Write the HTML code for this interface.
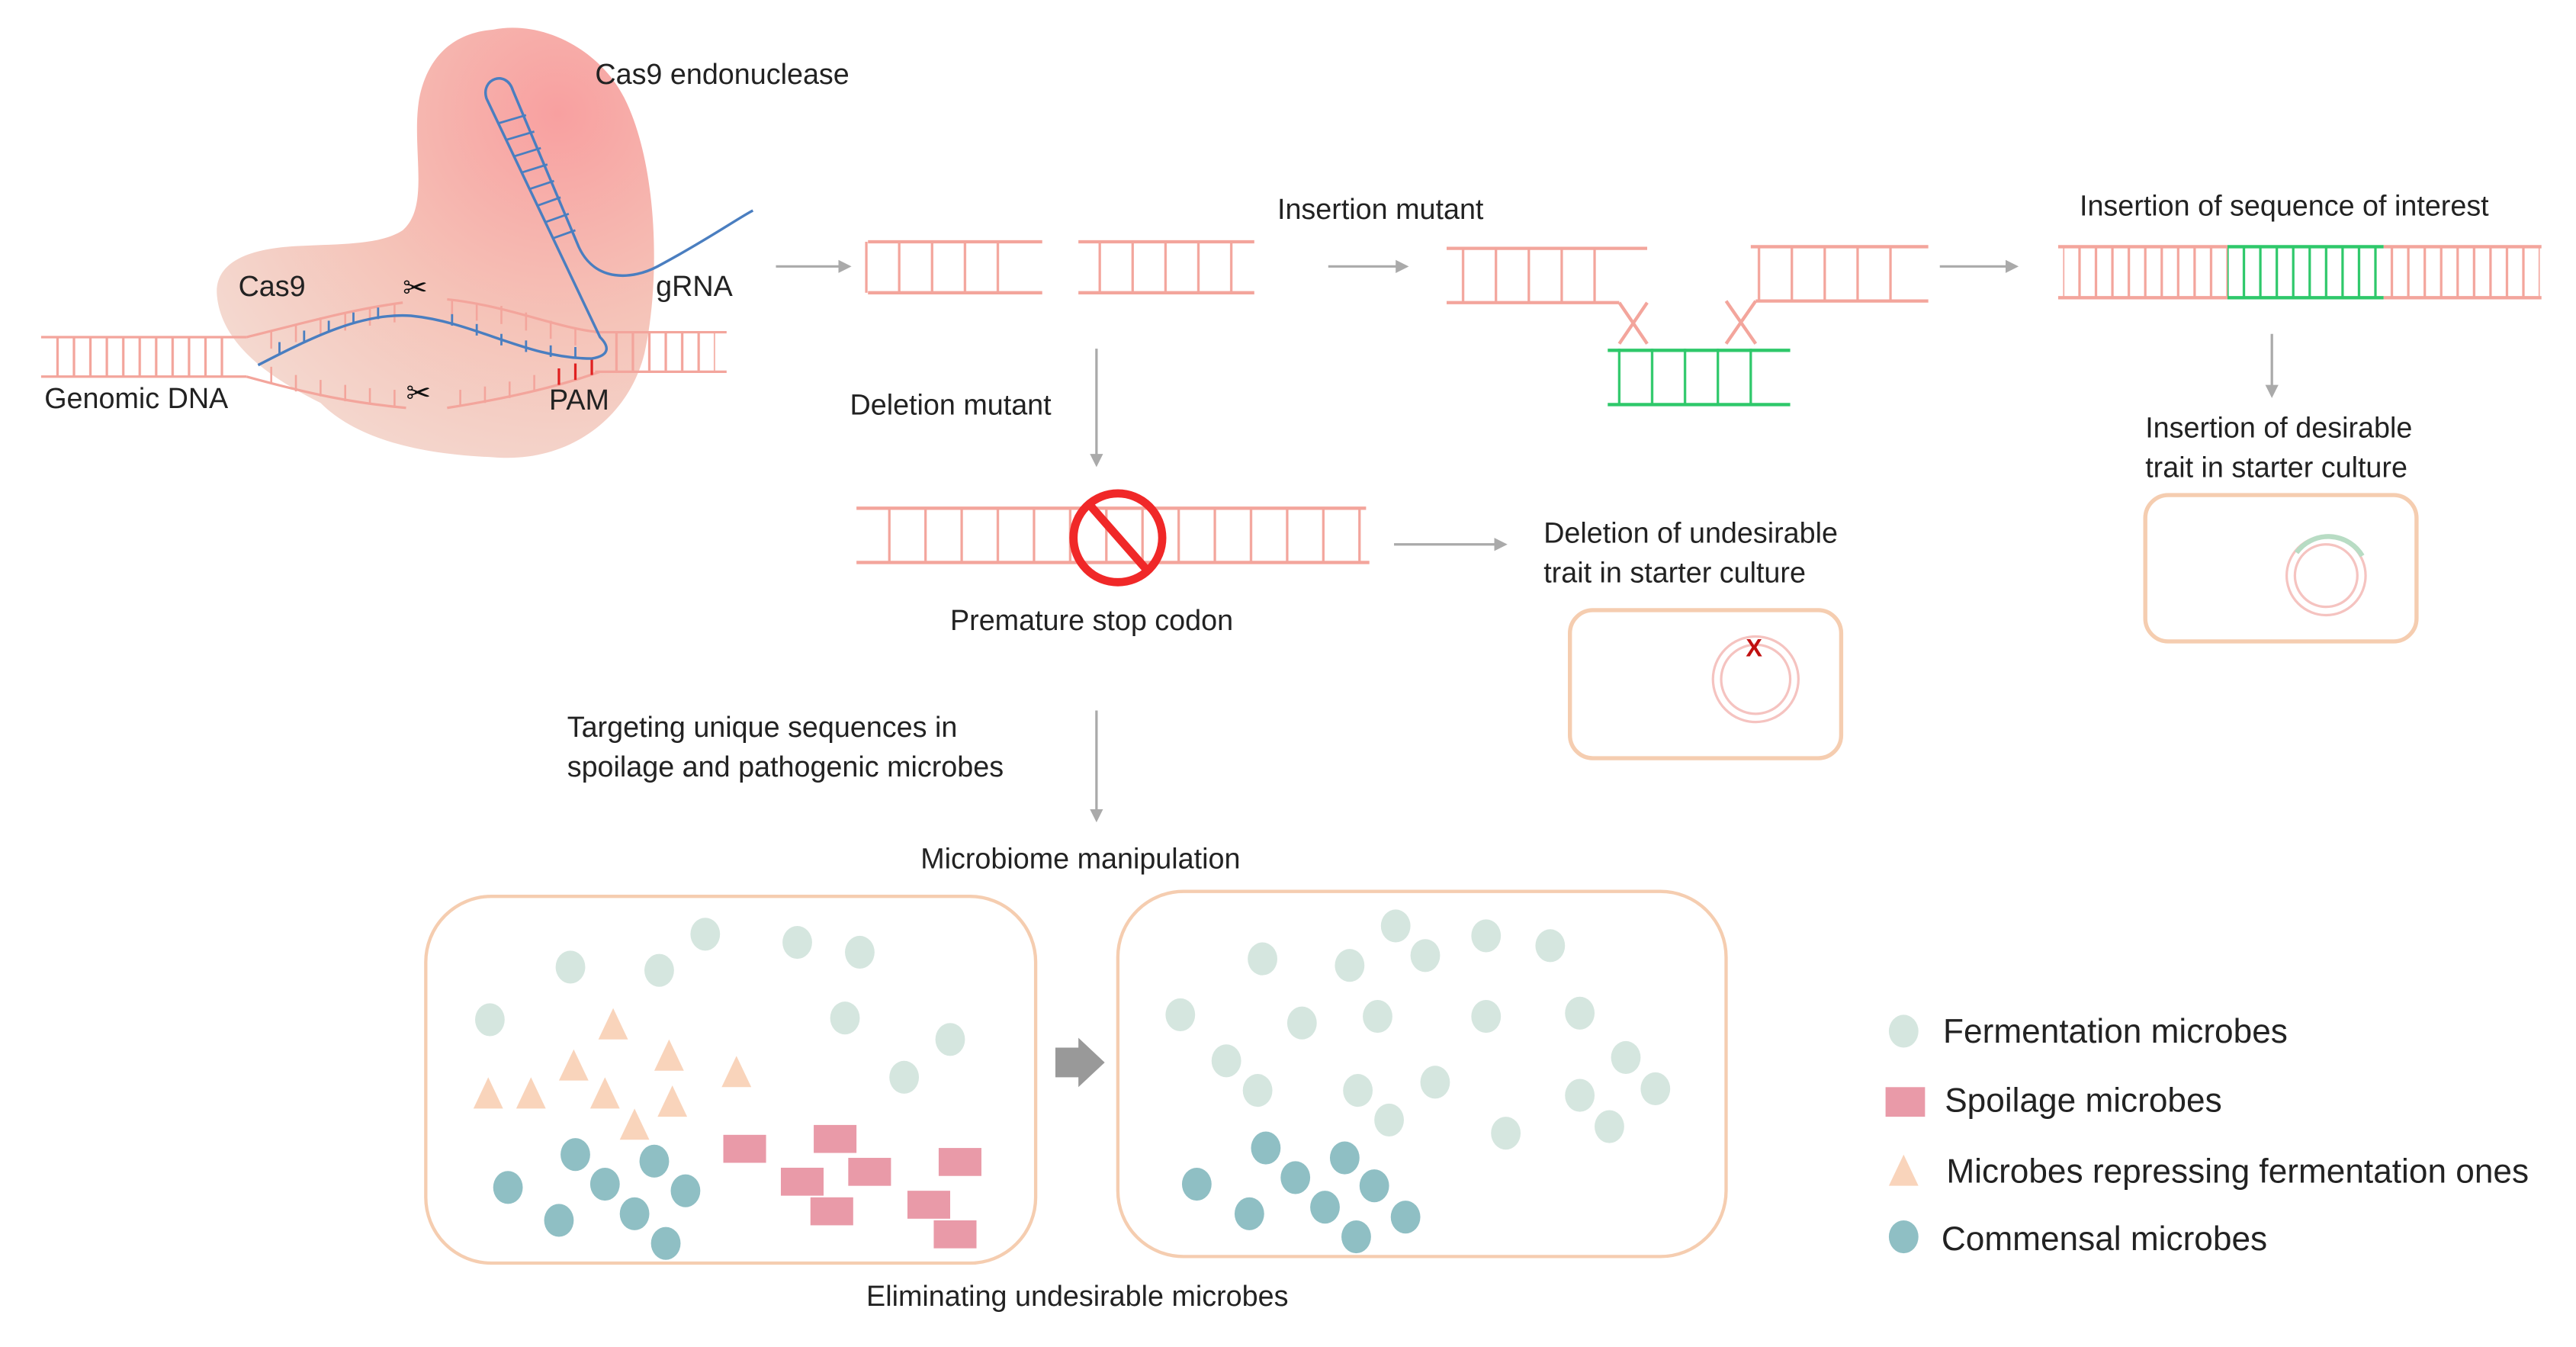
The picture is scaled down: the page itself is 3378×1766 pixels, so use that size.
<!DOCTYPE html>
<html><head><meta charset="utf-8"><style>
html,body{margin:0;padding:0;background:#fff;}
svg{display:block;}
text{font-family:"Liberation Sans",sans-serif;fill:#222;}
</style></head><body>
<svg width="3378" height="1766" viewBox="0 0 1567 819" preserveAspectRatio="none" xmlns="http://www.w3.org/2000/svg">
<defs>
<radialGradient id="bg" cx="0.78" cy="0.2" r="0.9">
<stop offset="0" stop-color="#f8a0a0"/><stop offset="0.55" stop-color="#f5c3b8"/><stop offset="1" stop-color="#f4d8cf"/>
</radialGradient>
<pattern id="rp" width="10" height="40" patternUnits="userSpaceOnUse"><line x1="5" y1="0" x2="5" y2="40" stroke="#f3a59c" stroke-width="1.5"/></pattern>
<pattern id="rp2" width="20" height="40" patternUnits="userSpaceOnUse"><line x1="10" y1="0" x2="10" y2="40" stroke="#f3a59c" stroke-width="1.5"/></pattern>
<pattern id="rp3" width="22" height="40" patternUnits="userSpaceOnUse"><line x1="11" y1="0" x2="11" y2="40" stroke="#f3a59c" stroke-width="1.5"/></pattern>
<pattern id="gp" width="20" height="40" patternUnits="userSpaceOnUse"><line x1="10" y1="0" x2="10" y2="40" stroke="#2ec86a" stroke-width="1.5"/></pattern>
<pattern id="gp2" width="10" height="40" patternUnits="userSpaceOnUse"><line x1="5" y1="0" x2="5" y2="40" stroke="#2ec86a" stroke-width="1.5"/></pattern>
<marker id="ah" markerWidth="8" markerHeight="8" refX="6" refY="4" orient="auto" markerUnits="userSpaceOnUse"><path d="M0,0 L8,4 L0,8 Z" fill="#aaa"/></marker>
</defs>

<path d="M300,18 C330,12 365,30 380,60 C400,100 402,170 392,215 C382,255 345,282 300,278 C250,276 215,265 195,245 C165,230 135,210 132,180 C130,160 150,152 175,150 C200,148 230,150 245,140 C262,125 250,90 255,60 C260,35 275,20 300,18 Z" fill="url(#bg)"/>

<rect x="27" y="205" width="115" height="24" fill="url(#rp)"/>
<line x1="25" y1="205" x2="150" y2="205" stroke="#f3a59c" stroke-width="1.5"/>
<line x1="25" y1="229" x2="150" y2="229" stroke="#f3a59c" stroke-width="1.5"/>
<rect x="370" y="202" width="65" height="24" fill="url(#rp)"/>
<line x1="362" y1="202" x2="442" y2="202" stroke="#f3a59c" stroke-width="1.5"/>
<line x1="362" y1="226" x2="442" y2="226" stroke="#f3a59c" stroke-width="1.5"/>
<path d="M150,205 C190,195 215,188 245,184 M272,182 C310,186 340,200 365,202" fill="none" stroke="#f3a59c" stroke-width="1.5"/>
<path d="M150,229 C190,240 215,245 247,248 M272,248 C310,242 340,235 365,226" fill="none" stroke="#f3a59c" stroke-width="1.5"/>
<g stroke="#f3a59c" stroke-width="1.2">
<line x1="165" y1="201" x2="165" y2="212"/><line x1="180" y1="197" x2="180" y2="208"/><line x1="195" y1="193" x2="195" y2="204"/><line x1="210" y1="190" x2="210" y2="201"/><line x1="225" y1="187" x2="225" y2="198"/><line x1="240" y1="185" x2="240" y2="196"/>
<line x1="275" y1="182" x2="275" y2="193"/><line x1="290" y1="184" x2="290" y2="195"/><line x1="305" y1="186" x2="305" y2="197"/><line x1="320" y1="190" x2="320" y2="201"/><line x1="335" y1="195" x2="335" y2="206"/><line x1="350" y1="199" x2="350" y2="210"/>
<line x1="165" y1="233" x2="165" y2="223"/><line x1="180" y1="238" x2="180" y2="228"/><line x1="195" y1="241" x2="195" y2="231"/><line x1="210" y1="244" x2="210" y2="234"/><line x1="225" y1="246" x2="225" y2="236"/><line x1="240" y1="247" x2="240" y2="237"/>
<line x1="280" y1="247" x2="280" y2="237"/><line x1="295" y1="245" x2="295" y2="235"/><line x1="310" y1="242" x2="310" y2="232"/><line x1="325" y1="238" x2="325" y2="228"/>
</g>
<g stroke="#e02020" stroke-width="1.5"><line x1="340" y1="234" x2="340" y2="224"/><line x1="350" y1="231" x2="350" y2="221"/><line x1="360" y1="228" x2="360" y2="218"/></g>
<path d="M157,222 C190,205 220,190 250,192 C290,196 320,218 360,218 C372,216 370,210 365,205 L296,60 C292,48 308,42 312,55 L352,150 C362,172 385,170 400,162 C430,146 450,132 458,128" fill="none" stroke="#4a7ec0" stroke-width="1.6"/>
<g stroke="#4a7ec0" stroke-width="1.3">
<line x1="303" y1="75" x2="320" y2="70"/><line x1="308" y1="85" x2="325" y2="80"/><line x1="313" y1="95" x2="329" y2="90"/><line x1="317" y1="105" x2="333" y2="100"/><line x1="322" y1="115" x2="337" y2="110"/><line x1="327" y1="125" x2="341" y2="120"/><line x1="332" y1="135" x2="346" y2="130"/><line x1="336" y1="145" x2="350" y2="140"/>
<line x1="170" y1="215" x2="170" y2="208"/><line x1="185" y1="208" x2="185" y2="201"/><line x1="200" y1="202" x2="200" y2="195"/><line x1="215" y1="197" x2="215" y2="190"/><line x1="230" y1="194" x2="230" y2="187"/>
<line x1="275" y1="198" x2="275" y2="191"/><line x1="290" y1="204" x2="290" y2="197"/><line x1="305" y1="210" x2="305" y2="203"/><line x1="320" y1="214" x2="320" y2="207"/><line x1="335" y1="217" x2="335" y2="210"/><line x1="350" y1="218" x2="350" y2="211"/>
</g>
<text x="245" y="181" font-size="18" style="fill:#111">✂</text>
<text x="247" y="245" font-size="18" style="fill:#111">✂</text>
<text x="362" y="51" font-size="17.5">Cas9 endonuclease</text>
<text x="145" y="180" font-size="17.5">Cas9</text>
<text x="399" y="180" font-size="17.5">gRNA</text>
<text x="27" y="248" font-size="17.5">Genomic DNA</text>
<text x="334" y="249" font-size="17.5">PAM</text>

<g stroke="#aaa" stroke-width="1.5" marker-end="url(#ah)">
<line x1="472" y1="162" x2="516" y2="162"/>
<line x1="808" y1="162" x2="855" y2="162"/>
<line x1="1180" y1="162" x2="1226" y2="162"/>
<line x1="1382" y1="203" x2="1382" y2="240"/>
<line x1="667" y1="212" x2="667" y2="282"/>
<line x1="848" y1="331" x2="915" y2="331"/>
<line x1="667" y1="432" x2="667" y2="498"/>
</g>

<rect x="528" y="147" width="100" height="31" fill="url(#rp2)" transform="translate(-3,0)"/>
<line x1="528" y1="147" x2="634" y2="147" stroke="#f3a59c" stroke-width="2"/><line x1="528" y1="178" x2="634" y2="178" stroke="#f3a59c" stroke-width="2"/>
<rect x="656" y="147" width="100" height="31" fill="url(#rp2)" transform="translate(-1,0)"/>
<line x1="656" y1="147" x2="763" y2="147" stroke="#f3a59c" stroke-width="2"/><line x1="656" y1="178" x2="763" y2="178" stroke="#f3a59c" stroke-width="2"/>
<text x="777" y="133" font-size="17.5">Insertion mutant</text>

<rect x="883" y="151" width="100" height="33" fill="url(#rp2)"/>
<line x1="880" y1="151" x2="1002" y2="151" stroke="#f3a59c" stroke-width="2"/><line x1="880" y1="184" x2="985" y2="184" stroke="#f3a59c" stroke-width="2"/>
<rect x="1068" y="150" width="100" height="33" fill="url(#rp2)"/>
<line x1="1065" y1="150" x2="1173" y2="150" stroke="#f3a59c" stroke-width="2"/><line x1="1068" y1="183" x2="1173" y2="183" stroke="#f3a59c" stroke-width="2"/>
<path d="M985,184 L1002,209 M1002,184 L985,209 M1068,183 L1050,209 M1050,183 L1068,209" stroke="#f3a59c" stroke-width="2" fill="none"/>
<rect x="978" y="212" width="110" height="34" fill="url(#gp)" transform="translate(-5,0)"/>
<line x1="978" y1="213" x2="1089" y2="213" stroke="#2ec86a" stroke-width="2"/><line x1="978" y1="246" x2="1089" y2="246" stroke="#2ec86a" stroke-width="2"/>

<text x="1265" y="131" font-size="17.5">Insertion of sequence of interest</text>
<rect x="1255" y="150" width="100" height="31" fill="url(#rp)"/>
<rect x="1355" y="150" width="95" height="31" fill="url(#gp2)"/>
<rect x="1450" y="150" width="95" height="31" fill="url(#rp)"/>
<line x1="1252" y1="150" x2="1355" y2="150" stroke="#f3a59c" stroke-width="2"/><line x1="1252" y1="181" x2="1355" y2="181" stroke="#f3a59c" stroke-width="2"/>
<line x1="1355" y1="150" x2="1450" y2="150" stroke="#2ec86a" stroke-width="2"/><line x1="1355" y1="181" x2="1450" y2="181" stroke="#2ec86a" stroke-width="2"/>
<line x1="1450" y1="150" x2="1546" y2="150" stroke="#f3a59c" stroke-width="2"/><line x1="1450" y1="181" x2="1546" y2="181" stroke="#f3a59c" stroke-width="2"/>

<text x="1305" y="266" font-size="17.5">Insertion of desirable</text>
<text x="1305" y="290" font-size="17.5">trait in starter culture</text>
<rect x="1305" y="301" width="165" height="89" rx="14" fill="none" stroke="#f5cdb0" stroke-width="2.5"/>
<circle cx="1415" cy="350" r="24" fill="none" stroke="#f5c3c0" stroke-width="1.5"/>
<circle cx="1415" cy="350" r="19" fill="none" stroke="#f5c3c0" stroke-width="1.5"/>
<path d="M1397,336 A24,24 0 0 1 1437,338" fill="none" stroke="#b8dcc4" stroke-width="3"/>

<text x="517" y="252" font-size="17.5">Deletion mutant</text>
<rect x="521" y="309" width="310" height="33" fill="url(#rp3)" transform="translate(2,0)"/>
<line x1="521" y1="309" x2="831" y2="309" stroke="#f3a59c" stroke-width="2"/><line x1="521" y1="342" x2="833" y2="342" stroke="#f3a59c" stroke-width="2"/>
<circle cx="680" cy="327" r="27" fill="none" stroke="#f02828" stroke-width="5"/>
<line x1="662" y1="306" x2="698" y2="347" stroke="#f02828" stroke-width="5"/>
<text x="578" y="383" font-size="17.5">Premature stop codon</text>

<text x="939" y="330" font-size="17.5">Deletion of undesirable</text>
<text x="939" y="354" font-size="17.5">trait in starter culture</text>
<rect x="955" y="371" width="165" height="90" rx="14" fill="none" stroke="#f5cdb0" stroke-width="2.5"/>
<circle cx="1068" cy="413" r="26" fill="none" stroke="#f5c3c0" stroke-width="1.5"/>
<circle cx="1068" cy="413" r="21" fill="none" stroke="#f5c3c0" stroke-width="1.5"/>
<text x="1062" y="399" font-size="15" font-weight="bold" style="fill:#c01010">X</text>

<text x="345" y="448" font-size="17.5">Targeting unique sequences in</text>
<text x="345" y="472" font-size="17.5">spoilage and pathogenic microbes</text>
<text x="560" y="528" font-size="17.5">Microbiome manipulation</text>

<rect x="259" y="545" width="371" height="223" rx="40" fill="none" stroke="#f5cdb0" stroke-width="2"/>
<rect x="680" y="542" width="370" height="222" rx="40" fill="none" stroke="#f5cdb0" stroke-width="2"/>
<path d="M642,637 L656,637 L656,631 L672,646 L656,661 L656,655 L642,655 Z" fill="#999"/>
<text x="527" y="794" font-size="17.5">Eliminating undesirable microbes</text>

<g fill="#d5e6df">
<ellipse cx="347" cy="588" rx="9" ry="10"/><ellipse cx="401" cy="590" rx="9" ry="10"/><ellipse cx="429" cy="568" rx="9" ry="10"/><ellipse cx="485" cy="573" rx="9" ry="10"/><ellipse cx="523" cy="579" rx="9" ry="10"/><ellipse cx="298" cy="620" rx="9" ry="10"/><ellipse cx="514" cy="619" rx="9" ry="10"/><ellipse cx="578" cy="632" rx="9" ry="10"/><ellipse cx="550" cy="655" rx="9" ry="10"/>
<ellipse cx="768" cy="583" rx="9" ry="10"/><ellipse cx="821" cy="587" rx="9" ry="10"/><ellipse cx="849" cy="563" rx="9" ry="10"/><ellipse cx="867" cy="581" rx="9" ry="10"/><ellipse cx="904" cy="569" rx="9" ry="10"/><ellipse cx="943" cy="575" rx="9" ry="10"/><ellipse cx="718" cy="617" rx="9" ry="10"/><ellipse cx="792" cy="622" rx="9" ry="10"/><ellipse cx="838" cy="618" rx="9" ry="10"/><ellipse cx="904" cy="618" rx="9" ry="10"/><ellipse cx="961" cy="616" rx="9" ry="10"/><ellipse cx="746" cy="645" rx="9" ry="10"/><ellipse cx="765" cy="663" rx="9" ry="10"/><ellipse cx="826" cy="663" rx="9" ry="10"/><ellipse cx="873" cy="658" rx="9" ry="10"/><ellipse cx="845" cy="681" rx="9" ry="10"/><ellipse cx="916" cy="689" rx="9" ry="10"/><ellipse cx="961" cy="666" rx="9" ry="10"/><ellipse cx="989" cy="643" rx="9" ry="10"/><ellipse cx="1007" cy="662" rx="9" ry="10"/><ellipse cx="979" cy="685" rx="9" ry="10"/>
<ellipse cx="1158" cy="627" rx="9" ry="10"/>
</g>
<g fill="#f9d4bb">
<path d="M373,613 L382,632 L364,632 Z"/><path d="M407,632 L416,651 L398,651 Z"/><path d="M349,638 L358,657 L340,657 Z"/><path d="M448,642 L457,661 L439,661 Z"/><path d="M297,655 L306,674 L288,674 Z"/><path d="M323,655 L332,674 L314,674 Z"/><path d="M368,655 L377,674 L359,674 Z"/><path d="M409,660 L418,679 L400,679 Z"/><path d="M386,674 L395,693 L377,693 Z"/>
<path d="M1158,702 L1167,721 L1149,721 Z"/>
</g>
<g fill="#8fbfc4">
<ellipse cx="350" cy="702" rx="9" ry="10"/><ellipse cx="398" cy="706" rx="9" ry="10"/><ellipse cx="309" cy="722" rx="9" ry="10"/><ellipse cx="368" cy="720" rx="9" ry="10"/><ellipse cx="417" cy="724" rx="9" ry="10"/><ellipse cx="340" cy="742" rx="9" ry="10"/><ellipse cx="386" cy="738" rx="9" ry="10"/><ellipse cx="405" cy="756" rx="9" ry="10"/>
<ellipse cx="770" cy="698" rx="9" ry="10"/><ellipse cx="728" cy="720" rx="9" ry="10"/><ellipse cx="788" cy="716" rx="9" ry="10"/><ellipse cx="818" cy="704" rx="9" ry="10"/><ellipse cx="836" cy="721" rx="9" ry="10"/><ellipse cx="760" cy="738" rx="9" ry="10"/><ellipse cx="806" cy="734" rx="9" ry="10"/><ellipse cx="855" cy="740" rx="9" ry="10"/><ellipse cx="825" cy="752" rx="9" ry="10"/>
<ellipse cx="1158" cy="752" rx="9" ry="10"/>
</g>
<g fill="#e99aa8">
<rect x="440" y="690" width="26" height="17"/><rect x="495" y="684" width="26" height="17"/><rect x="475" y="710" width="26" height="17"/><rect x="516" y="704" width="26" height="17"/><rect x="571" y="698" width="26" height="17"/><rect x="493" y="728" width="26" height="17"/><rect x="552" y="724" width="26" height="17"/><rect x="568" y="742" width="26" height="17"/>
<rect x="1147" y="661" width="24" height="18"/>
</g>
<text x="1182" y="634" font-size="20.5">Fermentation microbes</text>
<text x="1183" y="676" font-size="20.5">Spoilage microbes</text>
<text x="1184" y="719" font-size="20.5">Microbes repressing fermentation ones</text>
<text x="1181" y="760" font-size="20.5">Commensal microbes</text>
</svg>
</body></html>
